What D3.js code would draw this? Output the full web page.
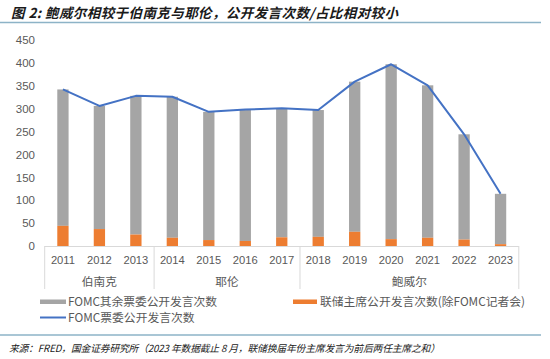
<!DOCTYPE html>
<html><head><meta charset="utf-8">
<script src="https://cdn.jsdelivr.net/npm/d3@7"></script>
<style>body{margin:0;background:#fff}svg{display:block}</style>
</head><body>
<svg id="c" width="550" height="359"></svg>
<script>
const years = ["2011","2012","2013","2014","2015","2016","2017","2018","2019","2020","2021","2022","2023"];
const chairs = ["伯南克","伯南克","伯南克","耶伦","耶伦","耶伦","耶伦","鲍威尔","鲍威尔","鲍威尔","鲍威尔","鲍威尔","鲍威尔"];
const groups = ["伯南克","耶伦","鲍威尔"];
const chairSpeeches = [44,37,25,18,13,11,19,20,31,15,18,14,4];
const otherSpeeches = [298,269,303,308,280,287,282,277,328,382,333,230,110];
const totalSpeeches = [342,306,328,326,293,298,301,297,359,397,351,244,114];
const yTicks = [0,50,100,150,200,250,300,350,400,450];
const seriesNames = ["FOMC其余票委公开发言次数","联储主席公开发言次数(除FOMC记者会)","FOMC票委公开发言次数"];
const titleText = "图 2:  鲍威尔相较于伯南克与耶伦，公开发言次数/占比相对较小";
const sourceText = "来源：FRED，国金证券研究所（2023 年数据截止 8 月，联储换届年份主席发言为前后两任主席之和）";

const svg = d3.select("#c");
const cjk = "'Noto Sans CJK SC','Noto Sans',sans-serif";
const L = 44.7, R = 518.8, T = 40, B = 246;
const x = d3.scaleBand().domain(years).range([L, R]).paddingInner(0.69).paddingOuter(0.345);
const y = d3.scaleLinear().domain([0,450]).range([B, T]);
const grey = "#a5a5a5", orange = "#ed7d31", blue = "#4472c4", txt = "#595959", axisC = "#d9d9d9";

// Title
svg.append("text").attr("x", 11).attr("y", 17.5).attr("font-family", cjk).attr("font-weight", 700)
  .attr("font-style","italic").attr("font-size", 13.5).attr("fill", "#1a1a1a")
  .attr("textLength", 387).attr("lengthAdjust","spacing").text(titleText);
svg.append("line").attr("x1",0).attr("x2",541).attr("y1",22.5).attr("y2",22.5).attr("stroke","#8db3c7").attr("stroke-width",1.3);

// Y axis labels
const yAxis = d3.axisLeft(y).tickValues(yTicks).tickSize(0).tickPadding(0);
const ya = svg.append("g").attr("transform", `translate(35,0)`).call(yAxis);
ya.select(".domain").remove();
ya.selectAll("text").attr("font-family","'Liberation Sans',Arial,sans-serif").attr("font-size",11.5).attr("fill",txt);

// Bars
const data = years.map((yr,i)=>({yr, c: chairSpeeches[i], o: otherSpeeches[i], t: totalSpeeches[i]}));
svg.append("g").selectAll("rect").data(data).join("rect")
  .attr("x", d=>x(d.yr)).attr("width", x.bandwidth())
  .attr("y", d=>y(d.c + d.o)).attr("height", d=>y(d.c) - y(d.c + d.o)).attr("fill", grey);
svg.append("g").selectAll("rect").data(data).join("rect")
  .attr("x", d=>x(d.yr)).attr("width", x.bandwidth())
  .attr("y", d=>y(d.c)).attr("height", d=>y(0) - y(d.c)).attr("fill", orange);

// Line
const line = d3.line().x(d=>x(d.yr)+x.bandwidth()/2).y(d=>y(d.t));
svg.append("path").datum(data).attr("d", line).attr("fill","none").attr("stroke",blue).attr("stroke-width",2).attr("stroke-linejoin","round");

// X axis
const xa = svg.append("g");
xa.append("line").attr("x1",L).attr("x2",R).attr("y1",B+0.5).attr("y2",B+0.5).attr("stroke",axisC);
const step = x.step();
const bounds = [0];
groups.forEach(g=>{ bounds.push(chairs.lastIndexOf(g)+1); });
bounds.forEach(b=>{
  const bx = L + b*step;
  xa.append("line").attr("x1",bx).attr("x2",bx).attr("y1",B).attr("y2",289).attr("stroke",axisC);
});
xa.selectAll("text.yr").data(years).join("text")
  .attr("x", d=>x(d)+x.bandwidth()/2).attr("y", 263.5).attr("text-anchor","middle")
  .attr("font-family","'Liberation Sans',Arial,sans-serif").attr("font-size",11.2).attr("fill",txt).text(d=>d);
groups.forEach((g,gi)=>{
  const a = L + bounds[gi]*step, b = L + bounds[gi+1]*step;
  xa.append("text").attr("x",(a+b)/2).attr("y",285.5).attr("text-anchor","middle")
    .attr("font-family",cjk).attr("font-size",11.7).attr("fill",txt).text(g);
});

// Legend
const lg = svg.append("g").attr("font-family",cjk).attr("font-size",11.8).attr("fill",txt);
lg.append("rect").attr("x",40).attr("y",299.5).attr("width",26).attr("height",4.5).attr("fill",grey);
lg.append("text").attr("x",68).attr("y",306).attr("textLength",149).attr("lengthAdjust","spacing").text(seriesNames[0]);
lg.append("rect").attr("x",293).attr("y",299.5).attr("width",24).attr("height",4.5).attr("fill",orange);
lg.append("text").attr("x",320).attr("y",306).attr("textLength",205).attr("lengthAdjust","spacing").text(seriesNames[1]);
lg.append("line").attr("x1",40).attr("x2",66).attr("y1",317.5).attr("y2",317.5).attr("stroke",blue).attr("stroke-width",2);
lg.append("text").attr("x",68).attr("y",322).text(seriesNames[2]);

// Source
svg.append("line").attr("x1",0).attr("x2",541).attr("y1",335).attr("y2",335).attr("stroke","#8db3c7").attr("stroke-width",1.3);
svg.append("text").attr("x",9).attr("y",352).attr("font-family",cjk).attr("font-style","italic")
  .attr("font-size",9.8).attr("fill","#1a1a1a").attr("textLength",431).attr("lengthAdjust","spacing").text(sourceText);
</script>
</body></html>
